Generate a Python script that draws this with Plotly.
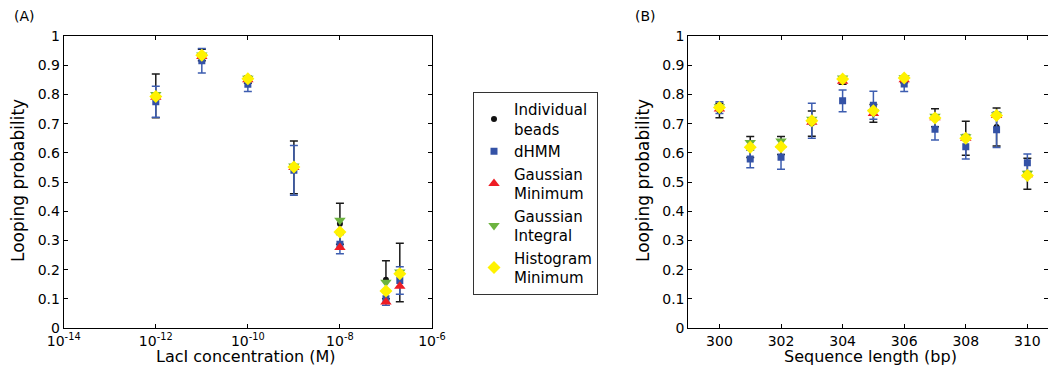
import plotly.graph_objects as go

# ---------------- Data: panel A (LacI concentration) ----------------
conc = [1e-12, 1e-11, 1e-10, 1e-9, 1e-8, 1e-7, 2e-7]
a_beads = [0.795, 0.935, 0.85, 0.55, 0.357, 0.165, 0.19]
a_beads_err = [0.075, 0.02, 0.012, 0.09, 0.07, 0.065, 0.1]
a_dhmm = [0.775, 0.915, 0.835, 0.54, 0.287, 0.10, 0.163]
a_dhmm_err = [0.053, 0.042, 0.025, 0.085, 0.033, 0.022, 0.047]
a_gmin = [0.79, 0.93, 0.85, 0.55, 0.276, 0.089, 0.143]
a_gint = [0.80, 0.935, 0.855, 0.555, 0.369, 0.157, 0.192]
a_hmin = [0.793, 0.934, 0.854, 0.551, 0.329, 0.127, 0.186]

# ---------------- Data: panel B (sequence length) ----------------
seqlen = [300, 301, 302, 303, 304, 305, 306, 307, 308, 309, 310]
b_beads = [0.745, 0.62, 0.625, 0.70, 0.845, 0.735, 0.85, 0.72, 0.65, 0.688, 0.528]
b_beads_err = [0.025, 0.036, 0.031, 0.043, 0.01, 0.03, 0.01, 0.031, 0.058, 0.065, 0.053]
b_dhmm = [0.755, 0.579, 0.585, 0.71, 0.778, 0.763, 0.836, 0.681, 0.621, 0.679, 0.566]
b_dhmm_err = [0.02, 0.03, 0.041, 0.06, 0.037, 0.048, 0.026, 0.037, 0.042, 0.061, 0.03]
b_gmin = [0.75, 0.625, 0.625, 0.705, 0.845, 0.735, 0.85, 0.72, 0.65, 0.728, 0.525]
b_gint = [0.758, 0.635, 0.64, 0.715, 0.856, 0.74, 0.857, 0.725, 0.655, 0.73, 0.53]
b_hmin = [0.755, 0.619, 0.621, 0.71, 0.853, 0.744, 0.856, 0.719, 0.65, 0.728, 0.522]

names = ["Individual<br>beads", "dHMM", "Gaussian<br>Minimum", "Gaussian<br>Integral", "Histogram<br>Minimum"]
log_tickvals = [1e-14, 1e-12, 1e-10, 1e-8, 1e-6]
log_ticktext = ["10<sup>-14</sup>", "10<sup>-12</sup>", "10<sup>-10</sup>", "10<sup>-8</sup>", "10<sup>-6</sup>"]

BLACK = "#111111"
BLUE = "#3452a6"
RED = "#ee1c24"
GREEN = "#6cb33f"
YELLOW = "#fff200"

styles = [
    dict(symbol="circle", size=6, color=BLACK),
    dict(symbol="square", size=7, color=BLUE),
    dict(symbol="triangle-up", size=10, color=RED),
    dict(symbol="triangle-down", size=10, color=GREEN),
    dict(symbol="diamond", size=10, color=YELLOW),
]

fig = go.Figure()

def add_panel(x, series, errs, xa, ya, showlegend):
    for i, (vals, st) in enumerate(zip(series, styles)):
        err = None
        if errs[i] is not None:
            err = dict(type="data", array=errs[i], visible=True,
                       color=("#1a1a1a" if i == 0 else "#3d5db0"),
                       thickness=1.5, width=4)
        fig.add_trace(go.Scatter(
            x=x, y=vals, mode="markers", name=names[i],
            marker=dict(symbol=st["symbol"], size=st["size"], color=st["color"],
                        line=dict(width=0)),
            error_y=err, xaxis=xa, yaxis=ya, showlegend=showlegend,
        ))

add_panel(conc, [a_beads, a_dhmm, a_gmin, a_gint, a_hmin],
          [a_beads_err, a_dhmm_err, None, None, None], "x", "y", True)
add_panel(seqlen, [b_beads, b_dhmm, b_gmin, b_gint, b_hmin],
          [b_beads_err, b_dhmm_err, None, None, None], "x2", "y2", False)

FONT = "DejaVu Sans"
axis_common = dict(showline=True, linecolor="black", linewidth=1, mirror="ticks",
                   ticks="inside", ticklen=4, tickcolor="black", showgrid=False,
                   zeroline=False, automargin=False,
                   tickfont=dict(size=14, color="black", family=FONT))

yticks = [round(0.1 * i, 1) for i in range(11)]
yticktext = ["0", "0.1", "0.2", "0.3", "0.4", "0.5", "0.6", "0.7", "0.8", "0.9", "1"]

H = 368
TOP, BOT = 36, 40
PH = H - TOP - BOT


def py(pix):
    # convert pixel row (from top of figure) to paper y
    return (H - BOT - pix) / PH


fig.update_layout(
    width=1048, height=H,
    margin=dict(l=0, r=0, t=TOP, b=BOT, autoexpand=False),
    paper_bgcolor="white", plot_bgcolor="white",
    font=dict(family=FONT, color="black", size=14),
    xaxis=dict(**axis_common, type="log", range=[-14, -6], domain=[0.0608, 0.4122],
               tickvals=log_tickvals, ticktext=log_ticktext),
    yaxis=dict(**axis_common, range=[0, 1], tickvals=yticks, ticktext=yticktext),
    xaxis2=dict(**axis_common, range=[298.99, 310.67], domain=[0.6568, 1.0],
                tickvals=[300, 302, 304, 306, 308, 310]),
    yaxis2=dict(**axis_common, range=[0, 1], anchor="x2", tickvals=yticks, ticktext=yticktext),
    legend=dict(x=473 / 1048, y=py(92), xanchor="left", yanchor="top",
                bgcolor="white", bordercolor="#333333", borderwidth=1,
                font=dict(size=15, family=FONT, color="black"),
                itemwidth=30, tracegroupgap=0),
    annotations=[
        dict(text="(A)", x=12 / 1048, y=py(16), xref="paper", yref="paper",
             xanchor="left", yanchor="middle", showarrow=False, font=dict(size=14)),
        dict(text="(B)", x=633 / 1048, y=py(16), xref="paper", yref="paper",
             xanchor="left", yanchor="middle", showarrow=False, font=dict(size=14)),
        dict(text="Looping probability", x=18 / 1048, y=py(181), xref="paper", yref="paper",
             xanchor="center", yanchor="middle", textangle=-90, showarrow=False,
             font=dict(size=17)),
        dict(text="Looping probability", x=643 / 1048, y=py(181), xref="paper", yref="paper",
             xanchor="center", yanchor="middle", textangle=-90, showarrow=False,
             font=dict(size=17)),
        dict(text="LacI concentration (M)", x=246 / 1048, y=py(356), xref="paper", yref="paper",
             xanchor="center", yanchor="middle", showarrow=False, font=dict(size=16)),
        dict(text="Sequence length (bp)", x=870 / 1048, y=py(356), xref="paper", yref="paper",
             xanchor="center", yanchor="middle", showarrow=False, font=dict(size=16)),
    ],
)

fig.write_html("out.html")
